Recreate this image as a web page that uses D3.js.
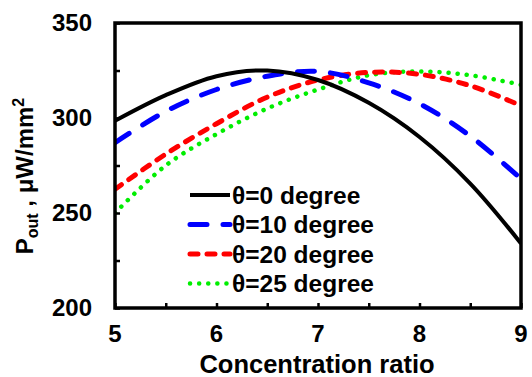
<!DOCTYPE html>
<html>
<head>
<meta charset="utf-8">
<script src="https://cdn.jsdelivr.net/npm/d3@7"></script>
<style>
  body { margin: 0; background: #fff; }
  text { font-family: "Liberation Sans", Arial, sans-serif; font-weight: bold; fill: #000; }
</style>
</head>
<body>
<div id="chart"></div>
<script>
// data
const ratios = [5, 5.5, 6, 6.5, 7, 7.5, 8, 8.5, 9];
const theta0 = [298.5, 312, 322, 325, 320, 308, 290, 265.5, 234];
const theta10 = [287, 303.5, 315, 322, 324.5, 318.5, 307.5, 290.5, 268];
const theta20 = [262.5, 281, 297, 311, 320, 324, 323, 317, 306.5];
const theta25 = [250, 275, 291.5, 305, 315, 322.5, 324.5, 322.5, 317.5];
const seriesNames = ['θ=0 degree', 'θ=10 degree', 'θ=20 degree', 'θ=25 degree'];
const xTicks = [5, 6, 7, 8, 9];
const yTicks = [200, 250, 300, 350];

const W = 532, H = 377;
const margin = { top: 23, right: 11, bottom: 69, left: 115 },
	width = W - margin.left - margin.right,
	height = H - margin.top - margin.bottom;

const svg = d3.select('#chart')
	.append('svg')
	.attr('width', W)
	.attr('height', H);
const g = svg.append('g')
	.attr('transform', 'translate(' + margin.left + ',' + margin.top + ')');

const x = d3.scaleLinear().domain([5, 9]).range([0, width]);
const y = d3.scaleLinear().domain([200, 350]).range([height, 0]);

// series styles
const styles = [
	{ values: theta0, color: '#000000', w: 4, dash: null, cap: 'butt' },
	{ values: theta10, color: '#0000ff', w: 5, dash: '17,16', cap: 'round' },
	{ values: theta20, color: '#ff0000', w: 5, dash: '8,9', cap: 'round' },
	{ values: theta25, color: '#00ee00', w: 4.5, dash: '0.1,9', cap: 'round' }
];

g.append('clipPath').attr('id', 'clip')
	.append('rect').attr('x', 0).attr('y', 0).attr('width', width).attr('height', height);

const line = d3.line()
	.x((d, i) => x(ratios[i]))
	.y(d => y(d))
	.curve(d3.curveCatmullRom);

// draw in reverse so black ends on top
styles.slice().reverse().forEach(s => {
	g.append('path')
		.datum(s.values)
		.attr('clip-path', 'url(#clip)')
		.attr('fill', 'none')
		.attr('stroke', s.color)
		.attr('stroke-width', s.w)
		.attr('stroke-linecap', s.cap)
		.attr('stroke-dasharray', s.dash)
		.attr('d', line);
});

// axes (ticks pointing inward)
const xAxis = g.append('g')
	.attr('transform', 'translate(0,' + height + ')')
	.call(d3.axisBottom(x).tickValues(d3.range(5, 9.01, 0.5)).tickSize(-5).tickFormat(''));
xAxis.selectAll('line').attr('stroke', '#000').attr('stroke-width', 2.5);
xAxis.select('.domain').remove();

const yAxis = g.append('g')
	.call(d3.axisLeft(y).tickValues(d3.range(200, 350.01, 25)).tickSize(-5).tickFormat(''));
yAxis.selectAll('line').attr('stroke', '#000').attr('stroke-width', 2.5);
yAxis.select('.domain').remove();

// frame
g.append('rect')
	.attr('x', 0).attr('y', 0)
	.attr('width', width).attr('height', height)
	.attr('fill', 'none')
	.attr('stroke', '#000')
	.attr('stroke-width', 3.5);

// tick labels
g.selectAll('.xl').data(xTicks).enter().append('text')
	.attr('x', d => x(d))
	.attr('y', height + 34)
	.attr('text-anchor', 'middle')
	.style('font-size', '24px')
	.text(d => d);

g.selectAll('.yl').data(yTicks).enter().append('text')
	.attr('x', -23)
	.attr('y', d => y(d) + 8)
	.attr('text-anchor', 'end')
	.style('font-size', '24px')
	.text(d => d);

// axis titles
svg.append('text')
	.attr('x', 317)
	.attr('y', 373)
	.attr('text-anchor', 'middle')
	.style('font-size', '25.5px')
	.text('Concentration ratio');

const yt = svg.append('text')
	.attr('transform', 'translate(33,176) rotate(-90)')
	.attr('text-anchor', 'middle')
	.style('font-size', '24px');
yt.append('tspan').text('P');
yt.append('tspan').attr('dy', 5).style('font-size', '16px').text('out');
yt.append('tspan').attr('dy', -5).text(' , μW/mm');
yt.append('tspan').attr('dy', -9).style('font-size', '16px').text('2');

// legend
const legend = svg.append('g').attr('transform', 'translate(188,195)');
styles.forEach((s, i) => {
	const row = legend.append('g').attr('transform', 'translate(0,' + i * 29.5 + ')');
	row.append('line')
		.attr('x1', 2).attr('x2', 42)
		.attr('y1', 0).attr('y2', 0)
		.attr('stroke', s.color)
		.attr('stroke-width', s.w)
		.attr('stroke-linecap', s.cap)
		.attr('stroke-dasharray', s.dash);
	row.append('text')
		.attr('x', 44)
		.attr('y', 8.5)
		.style('font-size', '24.5px')
		.text(seriesNames[i]);
});
</script>
</body>
</html>
